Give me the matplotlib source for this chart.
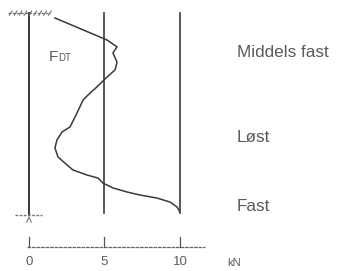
import numpy as np
import matplotlib
matplotlib.use("Agg")
import matplotlib.pyplot as plt

# skin friction curve F_DT along the pile (kN vs depth, tip at depth 10)
fdt_kn = [1.72, 5.17, 5.83, 5.56, 5.83, 5.70, 5.17, 4.50, 3.91, 3.58, 3.18,
          2.72, 2.19, 1.85, 1.72, 1.92, 2.38, 2.91, 3.84, 4.57, 4.90, 5.56,
          6.49, 7.35, 8.48, 9.34, 9.80, 10.00]
fdt_depth = [0.25, 1.34, 1.68, 1.98, 2.43, 2.82, 3.17, 3.66, 4.06, 4.31, 4.95,
             5.64, 5.89, 6.29, 6.68, 7.13, 7.43, 7.77, 8.02, 8.17, 8.42, 8.66,
             8.86, 9.01, 9.16, 9.36, 9.60, 9.85]

ref_lines = [5, 10]
tick_vals = [0, 5, 10]
tick_labels = ["0", "5", "10"]
layers = ["Middels fast", "Løst", "Fast"]
layer_depth = [1.98, 6.14, 9.60]

plt.rcParams['font.family'] = ['Liberation Sans', 'DejaVu Sans']
ink = "#3a3a3a"
txt = "#5a5a5a"

fig = plt.figure(figsize=(3.39, 2.71), dpi=100)
ax = fig.add_axes([0, 0, 1, 1])
ax.set_xlim(-1.92, 20.53)
ax.set_ylim(12.77, -0.64)
ax.axis("off")

# pile and reference lines
ax.plot([0, 0], [0, 10], color=ink, lw=1.4)
for v in ref_lines:
    ax.plot([v, v], [0, 9.9], color=ink, lw=1.2)

# ground surface hatch at top of pile
ax.plot([-1.4, 1.4], [0.02, 0.02], color="#777777", lw=1.0, ls=(0, (2, 1)))
for hx in np.linspace(-1.3, 1.3, 9):
    ax.plot([hx, hx + 0.18], [0.12, -0.1], color="#666666", lw=0.7)

# pile tip marker
ax.plot([-0.95, 0.85], [10.0, 10.0], color="#777777", lw=1.0, ls=(0, (2, 1)))
ax.plot([-0.15, 0.0, 0.15], [10.35, 10.1, 10.35], color="#777777", lw=0.8)

# curve
ax.plot(fdt_kn, fdt_depth, color=ink, lw=1.1)
ax.text(1.3, 2.2, "F", color=txt, fontsize=11, va="center", ha="left")
ax.text(1.95, 2.25, "DT", color=txt, fontsize=7, va="center", ha="left")

# kN scale at bottom
ax.plot([-0.13, 11.66], [11.58, 11.58], color="#666666", lw=0.9, ls=(0, (3, 0.6)))
for v, lab in zip(tick_vals, tick_labels):
    ax.plot([v, v], [11.09, 11.58], color="#555555", lw=0.9)
    ax.text(v, 12.33, lab, color=txt, fontsize=9.5, ha="center", va="center")
ax.text(13.1, 12.38, "kN", color=txt, fontsize=8, ha="left", va="center")

# soil layer labels
for lab, d in zip(layers, layer_depth):
    ax.text(13.75, d, lab, color=txt, fontsize=12.3, ha="left", va="center")

fig.savefig("out.png", dpi=100)
